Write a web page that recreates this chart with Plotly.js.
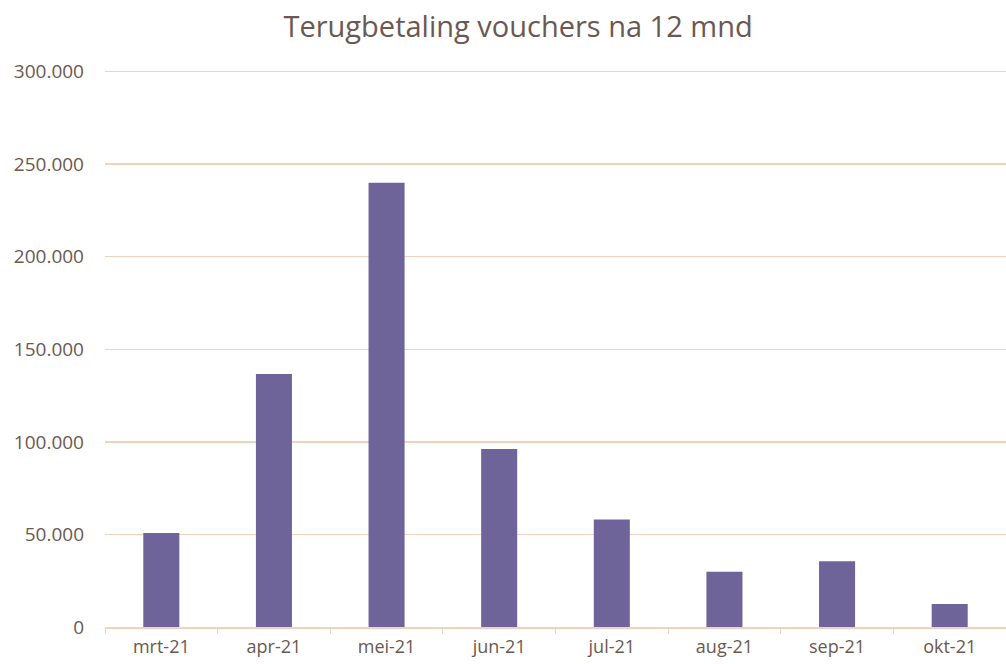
<!DOCTYPE html>
<html>
<head>
<meta charset="utf-8">
<script src="https://cdn.plot.ly/plotly-3.0.1.min.js"></script>
<style>html,body{margin:0;padding:0;background:#fff;}#chart{width:1006px;height:664px;}</style>
</head>
<body>
<div id="chart"></div>
<script>
var categories = ["mrt-21", "apr-21", "mei-21", "jun-21", "jul-21", "aug-21", "sep-21", "okt-21"];
var values = [50800, 136700, 240000, 96200, 58000, 29800, 35500, 12400];
var yTicks = [0, 50000, 100000, 150000, 200000, 250000, 300000];

var textColor = "#6b5852";
var gridColor = "#f3d2bd";
var font = "Open Sans, Noto Sans, sans-serif";

var trace = {
  type: "bar",
  x: categories,
  y: values,
  marker: {color: "#6e6499"},
  hoverinfo: "x+y"
};

var layout = {
  width: 1006,
  height: 664,
  margin: {l: 105, r: 0, t: 66, b: 37},
  paper_bgcolor: "#ffffff",
  plot_bgcolor: "#ffffff",
  separators: ",.",
  bargap: 0.68,
  showlegend: false,
  title: {
    text: "Terugbetaling vouchers na 12 mnd",
    font: {family: font, size: 29, color: textColor},
    x: 0.515, xanchor: "center",
    y: 0.96, yanchor: "middle"
  },
  xaxis: {
    type: "category",
    showgrid: false,
    showline: true,
    linecolor: gridColor,
    linewidth: 1.5,
    ticks: "outside",
    tickson: "boundaries",
    ticklen: 5,
    tickcolor: gridColor,
    ticklabelstandoff: 3,
    tickfont: {family: font, size: 18, color: textColor},
    fixedrange: true
  },
  yaxis: {
    range: [0, 303000],
    tickvals: yTicks,
    tickformat: ",d",
    showgrid: true,
    gridcolor: gridColor,
    gridwidth: 1.5,
    zeroline: false,
    showline: false,
    ticks: "",
    ticklabelstandoff: 20,
    tickfont: {family: font, size: 19, color: textColor},
    fixedrange: true
  }
};

Plotly.newPlot("chart", [trace], layout, {displayModeBar: false, staticPlot: true});
</script>
</body>
</html>
